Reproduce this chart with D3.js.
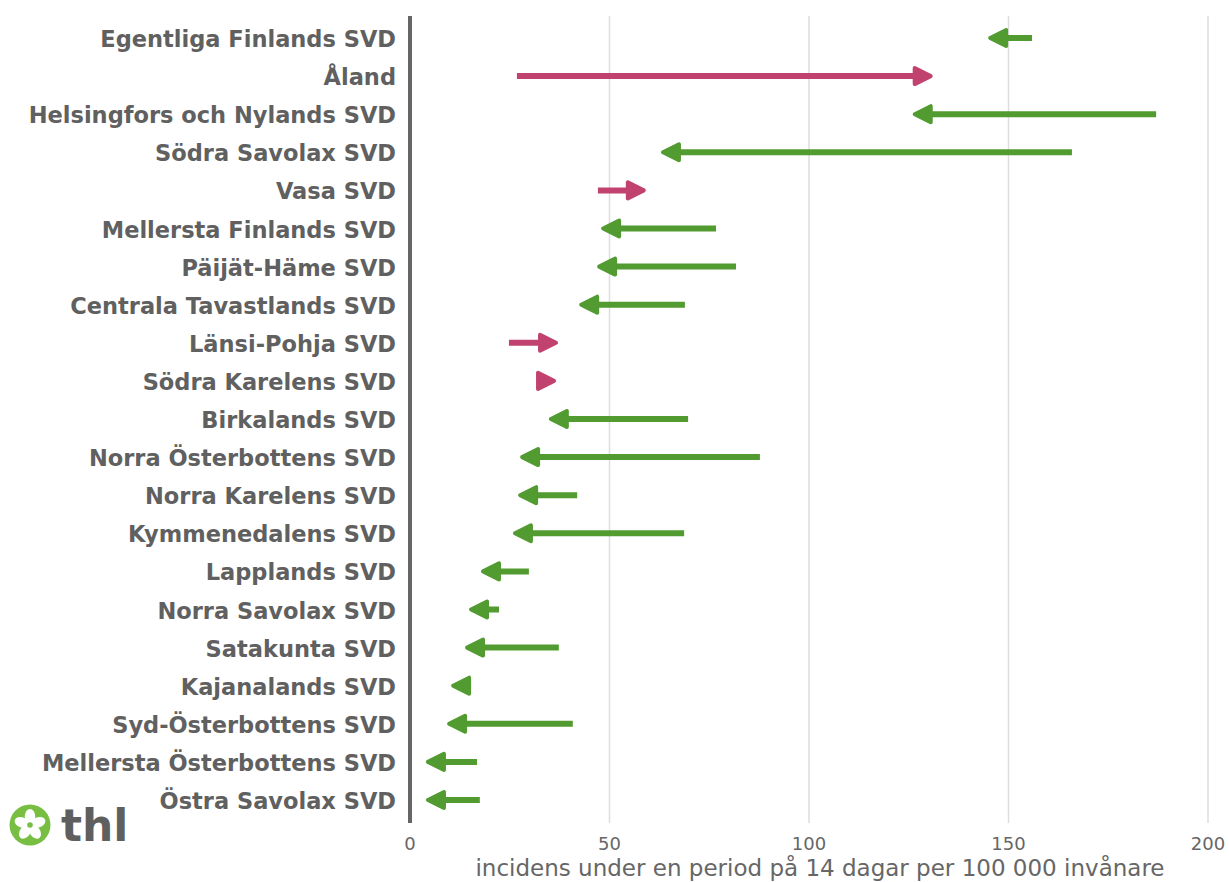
<!DOCTYPE html>
<html>
<head>
<meta charset="utf-8">
<script src="https://cdn.jsdelivr.net/npm/d3@7"></script>
<style>
  body { margin: 0; background: #fff; }
  svg { display: block; }
</style>
</head>
<body>
<div id="chart"></div>
<script>
// regions, top to bottom
const regions = [
    'Egentliga Finlands SVD', 'Åland', 'Helsingfors och Nylands SVD', 'Södra Savolax SVD',
    'Vasa SVD', 'Mellersta Finlands SVD', 'Päijät-Häme SVD', 'Centrala Tavastlands SVD',
    'Länsi-Pohja SVD', 'Södra Karelens SVD', 'Birkalands SVD', 'Norra Österbottens SVD',
    'Norra Karelens SVD', 'Kymmenedalens SVD', 'Lapplands SVD', 'Norra Savolax SVD',
    'Satakunta SVD', 'Kajanalands SVD', 'Syd-Österbottens SVD', 'Mellersta Österbottens SVD',
    'Östra Savolax SVD'
];
// previous period (arrow tail)
const previous = [155.9, 26.8, 187.0, 165.9, 47.1, 76.7, 81.7, 68.9, 24.8, 31.8, 69.7,
                  87.7, 41.9, 68.7, 29.8, 22.3, 37.3, 14.8, 40.8, 16.8, 17.5];
// latest period (arrow head)
const latest = [144.9, 131.0, 126.0, 62.9, 59.1, 47.9, 46.9, 42.4, 37.1, 36.6, 34.8,
                27.6, 27.1, 25.8, 17.8, 14.8, 13.8, 10.3, 9.3, 4.0, 4.0];
const xTicks = [0, 50, 100, 150, 200];
const xTitle = 'incidens under en period på 14 dagar per 100 000 invånare';

const W = 1229, H = 882;
const upColor = '#c1426f', downColor = '#529b30';
const grey = '#666666';

const svg = d3.select('#chart').append('svg')
    .attr('width', W).attr('height', H);

const x = d3.scaleLinear().domain([0, 200]).range([410, 1208]);
const y = d3.scalePoint().domain(regions).range([38, 800]);

// grid
svg.append('g').selectAll('line')
    .data(xTicks.slice(1))
    .join('line')
    .attr('x1', d => x(d)).attr('x2', d => x(d))
    .attr('y1', 16).attr('y2', 823)
    .attr('stroke', '#dddddd').attr('stroke-width', 1.5);

// x tick labels
svg.append('g').selectAll('text')
    .data(xTicks)
    .join('text')
    .attr('x', d => x(d)).attr('y', 850)
    .attr('text-anchor', 'middle')
    .attr('font-family', 'DejaVu Sans')
    .attr('font-size', 18)
    .attr('fill', grey)
    .text(d => d);

// axis title
svg.append('text')
    .attr('x', 820).attr('y', 876)
    .attr('text-anchor', 'middle')
    .attr('font-family', 'DejaVu Sans')
    .attr('font-size', 23)
    .attr('fill', grey)
    .text(xTitle);

// y axis line
svg.append('line')
    .attr('x1', 410).attr('x2', 410)
    .attr('y1', 16).attr('y2', 823)
    .attr('stroke', grey).attr('stroke-width', 4);

// region labels
svg.append('g').selectAll('text')
    .data(regions)
    .join('text')
    .attr('x', 396).attr('y', d => y(d))
    .attr('dy', '0.4em')
    .attr('text-anchor', 'end')
    .attr('font-family', 'DejaVu Sans')
    .attr('font-weight', 'bold')
    .attr('font-size', 22.5)
    .attr('fill', '#606060')
    .text(d => d);

// arrows
const headLen = 16, headHalf = 8;
const rows = regions.map((r, i) => ({ region: r, from: previous[i], to: latest[i] }));
const arrows = svg.append('g').selectAll('g')
    .data(rows)
    .join('g')
    .attr('transform', d => `translate(0,${y(d.region)})`);

arrows.append('line')
    .attr('x1', d => x(d.from))
    .attr('x2', d => {
        const dir = d.to > d.from ? 1 : -1;
        return x(d.to) - dir * (headLen - 2);
    })
    .attr('stroke', d => d.to > d.from ? upColor : downColor)
    .attr('stroke-width', 6);

arrows.append('path')
    .attr('d', d => {
        const dir = d.to > d.from ? 1 : -1;
        const tip = x(d.to) - dir * 2;
        const base = tip - dir * headLen;
        return `M${tip},0L${base},${-headHalf}L${base},${headHalf}Z`;
    })
    .attr('fill', d => d.to > d.from ? upColor : downColor)
    .attr('stroke', d => d.to > d.from ? upColor : downColor)
    .attr('stroke-width', 4)
    .attr('stroke-linejoin', 'round');

// thl logo
const logo = svg.append('g').attr('transform', 'translate(30,825)');
logo.append('circle').attr('r', 20.5).attr('fill', '#78be43');
for (let k = 0; k < 5; k++) {
    logo.append('ellipse')
        .attr('cx', 0).attr('cy', -8.5)
        .attr('rx', 5.2).attr('ry', 7.5)
        .attr('fill', '#fff')
        .attr('transform', `rotate(${k * 72})`);
}
logo.append('circle').attr('r', 2.8).attr('fill', '#78be43');
svg.append('text')
    .attr('x', 61).attr('y', 841)
    .attr('font-family', 'DejaVu Sans')
    .attr('font-weight', 'bold')
    .attr('font-size', 44)
    .attr('fill', '#5f5f5f')
    .text('thl');
</script>
</body>
</html>
